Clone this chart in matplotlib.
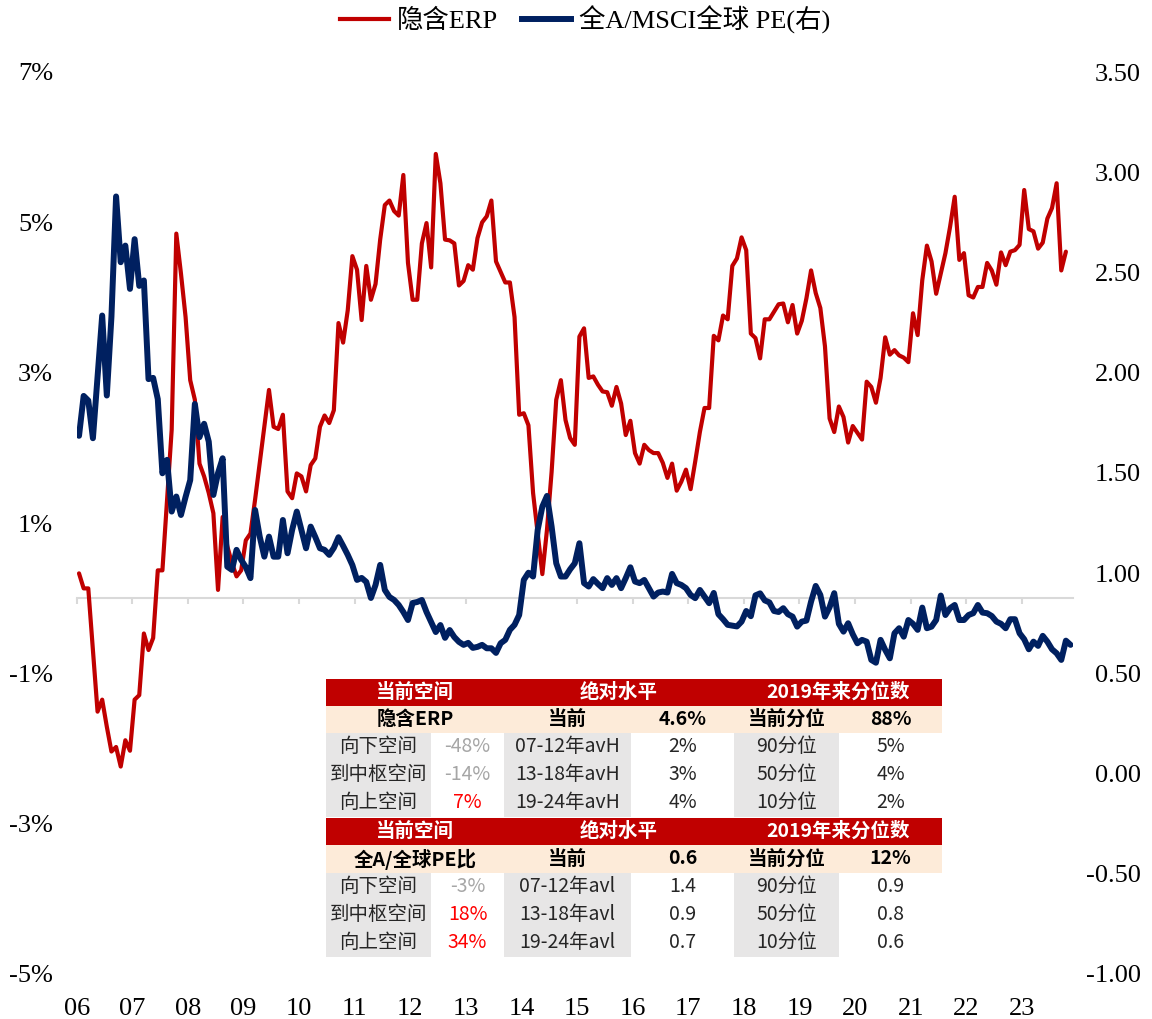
import numpy as np
import pandas as pd
import matplotlib
matplotlib.use('Agg')
import matplotlib.pyplot as plt
from matplotlib.patches import Rectangle
from matplotlib.lines import Line2D
from matplotlib.font_manager import FontProperties

plt.rcParams['font.family'] = ['Liberation Serif', 'Noto Sans CJK SC', 'DejaVu Sans']

# ---------------- data ----------------
dates = pd.date_range('2006-01-01', periods=215, freq='MS')

erp = [0.33, 0.13, 0.13, -0.69, -1.51, -1.35, -1.71, -2.04, -1.98, -2.24,
       -1.89, -2.03, -1.35, -1.29, -0.47, -0.69, -0.53, 0.37, 0.37, 1.31,
       2.24, 4.85, 4.32, 3.74, 2.90, 2.64, 1.79, 1.62, 1.40, 1.13,
       0.11, 1.08, 0.69, 0.47, 0.29, 0.37, 0.77, 0.86, 1.31, 1.80,
       2.28, 2.77, 2.28, 2.25, 2.44, 1.42, 1.33, 1.66, 1.62, 1.42,
       1.77, 1.86, 2.28, 2.43, 2.33, 2.50, 3.66, 3.40, 3.83, 4.55,
       4.37, 3.70, 4.42, 3.97, 4.18, 4.77, 5.23, 5.29, 5.15, 5.09,
       5.63, 4.46, 3.97, 3.97, 4.72, 4.99, 4.40, 5.91, 5.52, 4.77,
       4.76, 4.72, 4.16, 4.22, 4.43, 4.37, 4.79, 5.00, 5.08, 5.29,
       4.48, 4.34, 4.20, 4.20, 3.74, 2.44, 2.46, 2.30, 1.40, 0.86,
       0.32, 0.91, 1.68, 2.64, 2.90, 2.37, 2.13, 2.04, 3.48, 3.59,
       2.93, 2.95, 2.84, 2.75, 2.74, 2.56, 2.81, 2.59, 2.17, 2.36,
       1.93, 1.79, 2.04, 1.97, 1.93, 1.93, 1.80, 1.60, 1.79, 1.43,
       1.55, 1.71, 1.45, 1.82, 2.21, 2.53, 2.53, 3.49, 3.43, 3.76,
       3.71, 4.42, 4.52, 4.80, 4.63, 3.52, 3.46, 3.19, 3.71, 3.71,
       3.81, 3.91, 3.92, 3.67, 3.90, 3.52, 3.69, 3.99, 4.36, 4.06,
       3.86, 3.35, 2.39, 2.21, 2.55, 2.41, 2.07, 2.29, 2.20, 2.11,
       2.88, 2.81, 2.60, 2.93, 3.47, 3.24, 3.30, 3.23, 3.20, 3.14,
       3.79, 3.50, 4.23, 4.69, 4.48, 4.05, 4.32, 4.59, 4.94, 5.34,
       4.50, 4.59, 4.03, 4.00, 4.14, 4.14, 4.46, 4.36, 4.17, 4.60,
       4.43, 4.61, 4.63, 4.70, 5.43, 4.91, 4.88, 4.65, 4.73, 5.05,
       5.19, 5.52, 4.36, 4.61]

pe = [1.685, 1.884, 1.861, 1.673, 1.977, 2.285, 1.886, 2.280, 2.879, 2.551,
      2.634, 2.418, 2.666, 2.433, 2.460, 1.968, 1.974, 1.868, 1.498, 1.565,
      1.307, 1.382, 1.290, 1.380, 1.464, 1.844, 1.678, 1.745, 1.656, 1.390,
      1.499, 1.573, 1.032, 1.016, 1.116, 1.066, 1.030, 0.975, 1.315, 1.182,
      1.082, 1.182, 1.082, 1.082, 1.265, 1.099, 1.216, 1.307, 1.216, 1.124,
      1.232, 1.180, 1.124, 1.116, 1.091, 1.126, 1.179, 1.136, 1.091, 1.040,
      0.966, 0.976, 0.956, 0.876, 0.941, 1.041, 0.916, 0.881, 0.866, 0.841,
      0.806, 0.766, 0.851, 0.856, 0.866, 0.806, 0.756, 0.706, 0.741, 0.677,
      0.716, 0.681, 0.657, 0.642, 0.652, 0.627, 0.632, 0.642, 0.625, 0.625,
      0.602, 0.650, 0.667, 0.717, 0.742, 0.791, 0.966, 1.002, 0.983, 1.216,
      1.332, 1.385, 1.232, 1.049, 0.983, 0.983, 1.019, 1.049, 1.149, 0.950,
      0.933, 0.970, 0.946, 0.925, 0.975, 0.941, 0.975, 0.925, 0.975, 1.029,
      0.958, 0.950, 0.966, 0.925, 0.883, 0.903, 0.908, 0.903, 0.996, 0.950,
      0.941, 0.925, 0.891, 0.875, 0.916, 0.883, 0.850, 0.901, 0.795, 0.770,
      0.742, 0.738, 0.734, 0.758, 0.811, 0.785, 0.889, 0.899, 0.864, 0.854,
      0.811, 0.806, 0.825, 0.795, 0.783, 0.733, 0.758, 0.763, 0.858, 0.936,
      0.891, 0.783, 0.830, 0.900, 0.747, 0.708, 0.750, 0.695, 0.650, 0.667,
      0.658, 0.567, 0.553, 0.667, 0.617, 0.575, 0.700, 0.725, 0.683, 0.766,
      0.747, 0.717, 0.828, 0.725, 0.733, 0.766, 0.888, 0.791, 0.825, 0.841,
      0.766, 0.766, 0.791, 0.800, 0.841, 0.803, 0.800, 0.786, 0.758, 0.747,
      0.725, 0.770, 0.770, 0.700, 0.670, 0.620, 0.658, 0.637, 0.687, 0.658,
      0.620, 0.600, 0.567, 0.663, 0.642]

year_labels = ['06', '07', '08', '09', '10', '11', '12', '13', '14', '15',
               '16', '17', '18', '19', '20', '21', '22', '23']
left_ticks = [-5, -3, -1, 1, 3, 5, 7]
right_ticks = [-1.0, -0.5, 0.0, 0.5, 1.0, 1.5, 2.0, 2.5, 3.0, 3.5]

series_names = ['隐含ERP', '全A/MSCI全球 PE(右)']

table_header = ['当前空间', '绝对水平', '2019年来分位数']
t1_sub = ['隐含ERP', '当前', '4.6%', '当前分位', '88%']
t1_rows = [['向下空间', '-48%', '07-12年avH', '2%', '90分位', '5%'],
           ['到中枢空间', '-14%', '13-18年avH', '3%', '50分位', '4%'],
           ['向上空间', '7%', '19-24年avH', '4%', '10分位', '2%']]
t1_valcolors = ['#a6a6a6', '#a6a6a6', '#ff0000']
t2_sub = ['全A/全球PE比', '当前', '0.6', '当前分位', '12%']
t2_rows = [['向下空间', '-3%', '07-12年avl', '1.4', '90分位', '0.9'],
           ['到中枢空间', '18%', '13-18年avl', '0.9', '50分位', '0.8'],
           ['向上空间', '34%', '19-24年avl', '0.7', '10分位', '0.6']]
t2_valcolors = ['#a6a6a6', '#ff0000', '#ff0000']

# ---------------- figure ----------------
W, H = 1152, 1019
fig = plt.figure(figsize=(W / 100, H / 100), dpi=100)
L, R, T, B = 76.7, 1072.7, 72, 974
ax = fig.add_axes([L / W, 1 - B / H, (R - L) / W, (B - T) / H])
ax2 = ax.twinx()

xs = np.array(dates.year + (dates.month - 0.5) / 12.0)
red = '#C00000'
navy = '#002060'
ax.plot(xs[:len(erp)], erp, color=red, lw=3.0, solid_joinstyle='round', solid_capstyle='round', zorder=3)
ax2.plot(xs[:len(pe)], pe, color=navy, lw=4.3, solid_joinstyle='round', solid_capstyle='round', zorder=3)

ax.set_xlim(2006, 2023.914)
ax.set_ylim(-5, 7)
ax2.set_ylim(-1, 3.5)

for s in ['top', 'left', 'right']:
    ax.spines[s].set_visible(False)
for s in ax2.spines.values():
    s.set_visible(False)
ax.spines['bottom'].set_position(('data', 0))
ax.spines['bottom'].set_color('#d9d9d9')
ax.spines['bottom'].set_linewidth(1.5)

ax.set_xticks(range(2006, 2024))
ax.tick_params(axis='x', length=4.5, width=1.5, color='#d9d9d9', labelbottom=False)

sec = ax.secondary_xaxis(0.0)
sec.set_xticks(range(2006, 2024), labels=year_labels)
sec.tick_params(length=0, pad=17, labelsize=19)
sec.spines['bottom'].set_visible(False)

ax.set_yticks(left_ticks, labels=[f'{t}%' for t in left_ticks])
ax.tick_params(axis='y', length=0, pad=17, labelsize=19)
ax2.set_yticks(right_ticks, labels=[f'{t:.2f}' for t in right_ticks])
ax2.tick_params(axis='y', length=0, pad=49, labelsize=19)
for lab in ax2.get_yticklabels():
    lab.set_horizontalalignment('right')

# legend
handles = [Line2D([], [], color=red, lw=3.0), Line2D([], [], color=navy, lw=4.3)]
fig.legend(handles, series_names, loc='center', bbox_to_anchor=(0.508, 0.981), ncol=2,
           frameon=False, prop=FontProperties(family=['Liberation Serif', 'Noto Sans CJK SC'], size=19),
           handlelength=1.85, handletextpad=0.3, columnspacing=0.9)

# ---------------- tables ----------------
def fx(x):
    return x / W


def fy(y):
    return 1 - y / H


def rect(x0, y0, x1, y1, color):
    fig.add_artist(Rectangle((fx(x0), fy(y1)), fx(x1) - fx(x0), fy(y0) - fy(y1),
                             transform=fig.transFigure, facecolor=color, edgecolor='none', zorder=5))


tfont = ['Noto Sans CJK SC', 'DejaVu Sans']


def txt(cx, cy, s, color='#000000', bold=False, size=14):
    fig.text(fx(cx), fy(cy), s, ha='center', va='center', color=color, fontsize=size,
             fontweight='bold' if bold else 'normal', family=tfont, zorder=6)


cols = [326, 431, 504, 631, 734, 839, 942]
ccent = [(cols[i] + cols[i + 1]) / 2 for i in range(6)]
span_cent = [(cols[0] + cols[2]) / 2, (cols[2] + cols[4]) / 2, (cols[4] + cols[6]) / 2]


def draw_table(rows_y, sub, rows, valcolors):
    # header
    rect(cols[0], rows_y[0], cols[6], rows_y[1], '#C00000')
    for c, s in zip(span_cent, table_header):
        txt(c, (rows_y[0] + rows_y[1]) / 2, s, color='white', bold=True)
    # sub header
    rect(cols[0], rows_y[1], cols[6], rows_y[2], '#FDEBD9')
    cy = (rows_y[1] + rows_y[2]) / 2
    txt(span_cent[0], cy, sub[0], bold=True)
    for i, s in enumerate(sub[1:]):
        txt(ccent[2 + i], cy, s, bold=True)
    # body
    for gc in [0, 2, 4]:
        rect(cols[gc], rows_y[2], cols[gc + 1], rows_y[5], '#E7E6E6')
    for r, row in enumerate(rows):
        cy = (rows_y[2 + r] + rows_y[3 + r]) / 2
        for c, s in enumerate(row):
            color = '#262626'
            if c == 1:
                color = valcolors[r]
            txt(ccent[c], cy, s, color=color)


draw_table([679, 706, 733, 761, 789, 817], t1_sub, t1_rows, t1_valcolors)
draw_table([818, 845, 873, 901, 929, 957], t2_sub, t2_rows, t2_valcolors)

fig.savefig('out.png', dpi=100)
